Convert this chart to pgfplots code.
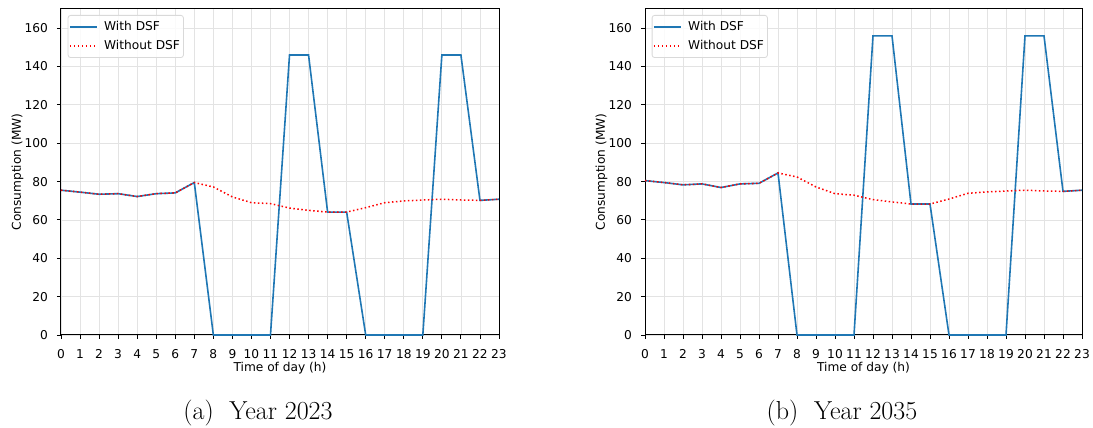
\documentclass[border=0pt]{standalone}
\usepackage{pgfplots}
\pgfplotsset{compat=1.18}
\usepackage{pgfplotstable}
\usepackage{fontspec}
\newfontfamily\dejavu{DejaVu Sans}
\definecolor{mplblue}{HTML}{1F77B4}

\pgfplotstableread{
h   wo    w
0   75.5  75.5
1   74.5  74.5
2   73.4  73.4
3   73.7  73.7
4   72.2  72.2
5   73.7  73.7
6   74.1  74.1
7   79.5  79.5
8   77.2  0
9   72.0  0
10  69.0  0
11  68.5  0
12  66.2  146
13  65.0  146
14  64.1  64.1
15  64.1  64.1
16  66.4  0
17  69.0  0
18  69.9  0
19  70.4  0
20  70.8  146
21  70.4  146
22  70.2  70.2
23  70.8  70.8
}\dataA

\pgfplotstableread{
h   wo    w
0   80.5  80.5
1   79.5  79.5
2   78.3  78.3
3   78.8  78.8
4   76.9  76.9
5   78.8  78.8
6   79.1  79.1
7   84.5  84.5
8   82.4  0
9   77.2  0
10  73.7  0
11  72.9  0
12  70.6  156
13  69.4  156
14  68.3  68.3
15  68.3  68.3
16  70.9  0
17  73.9  0
18  74.6  0
19  75.1  0
20  75.5  156
21  75.1  156
22  74.9  74.9
23  75.5  75.5
}\dataB

\pgfplotsset{
  dsfaxis/.style={
    scale only axis,
    width=438pt, height=326pt,
    xmin=0, xmax=23, ymin=0, ymax=170,
    xtick={0,1,...,23},
    ytick={0,20,...,160},
    font=\dejavu\fontsize{12.2}{14}\selectfont,
    /pgf/number format/assume math mode=true,
    axis line style={line width=1pt},
    tick pos=left,
    tick align=outside,
    major tick length=4pt,
    tick style={line width=0.9pt, black},
    grid=major,
    grid style={line width=0.8pt, gray!22},
    xticklabel style={inner sep=0pt, yshift=-10.5pt},
    yticklabel style={inner sep=0pt, xshift=-9pt},
    xlabel={Time of day (h)},
    ylabel={Consumption (MW)},
    xlabel style={at={(axis description cs:0.5,0)}, anchor=north, inner sep=0pt, yshift=-27pt},
    ylabel style={at={(axis description cs:0,0.5)}, anchor=north, inner sep=0pt, yshift=49.5pt},
    legend style={at={(axis description cs:0,1)}, anchor=north west,
      xshift=6.7pt, yshift=-6pt,
      draw=gray!30, line width=0.8pt, rounded corners=2.5pt,
      fill=white, fill opacity=0.85, text opacity=1, draw opacity=1,
      inner xsep=1pt, inner ysep=2.3pt,
      row sep=0pt,
      nodes={inner xsep=2.5pt, inner ysep=4pt},
      font=\dejavu\fontsize{12.2}{14}\selectfont},
    legend cell align=left,
    legend image code/.code={\draw[#1, opacity=1] (0pt,0pt) -- (27pt,0pt); \path (31pt,0pt);},
    clip=false,
  }
}

\begin{document}
\begin{tikzpicture}
\useasboundingbox (0pt,0pt) rectangle (1093pt,428pt);
\begin{axis}[dsfaxis, at={(61pt,93pt)}, anchor=south west]
  \addplot[mplblue, line width=1.6pt] table[x=h, y=w] {\dataA};
  \addlegendentry{With DSF}
  \addplot[red, line width=1.5pt, dash pattern=on 1.5pt off 2.5pt] table[x=h, y=wo] {\dataA};
  \addlegendentry{Without DSF\hspace{2pt}}
\end{axis}
\begin{axis}[dsfaxis, width=437pt, at={(645pt,93pt)}, anchor=south west]
  \addplot[mplblue, line width=1.6pt] table[x=h, y=w] {\dataB};
  \addlegendentry{With DSF}
  \addplot[red, line width=1.5pt, dash pattern=on 1.5pt off 2.5pt] table[x=h, y=wo] {\dataB};
  \addlegendentry{Without DSF\hspace{2pt}}
\end{axis}
\node[anchor=base, inner sep=0pt, font=\fontsize{26}{30}\selectfont] at (258pt,8pt) {(a)\hspace{0.6em}Year 2023};
\node[anchor=base, inner sep=0pt, font=\fontsize{26}{30}\selectfont] at (842pt,8pt) {(b)\hspace{0.6em}Year 2035};
\end{tikzpicture}
\end{document}
